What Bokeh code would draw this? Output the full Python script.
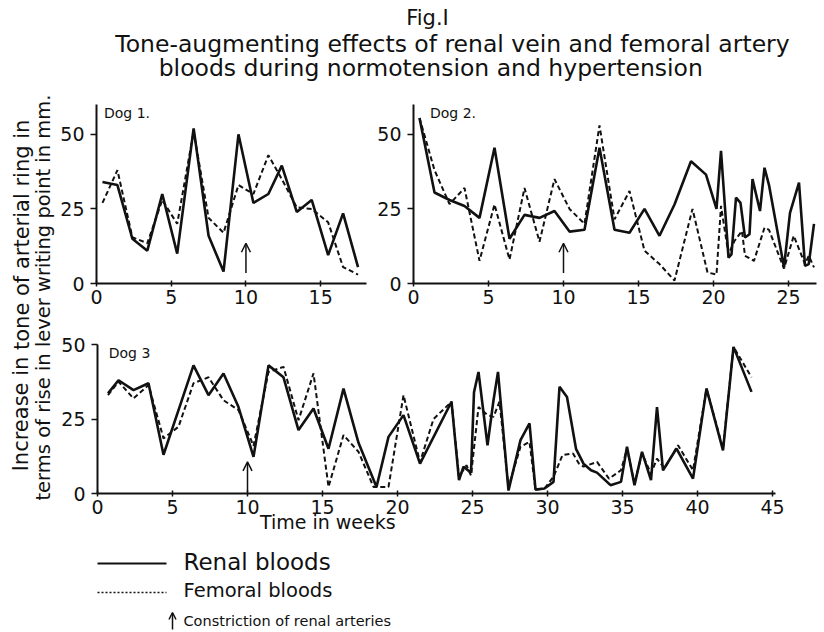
from bokeh.plotting import figure
from bokeh.layouts import column, row
from bokeh.models import Range1d, Arrow, OpenHead, FixedTicker, Label
from bokeh.core.properties import value
from bokeh.embed import file_html
from bokeh.resources import INLINE

FONT = "DejaVu Sans"
INK = "#111111"

# ---------------- data (weeks, increase in tone in mm) ----------------
dog1_renal_weeks = [0.4, 1.4, 2.4, 3.4, 4.4, 5.4, 6.5, 7.5, 8.5, 9.5, 10.5, 11.5, 12.4, 13.4, 14.4, 15.5, 16.5, 17.5]
dog1_renal = [34, 33, 15, 11, 30, 10, 52, 16, 4, 50, 27, 30, 39.5, 24, 28, 9.5, 23.5, 5.5]
dog1_femoral_weeks = [0.4, 1.4, 2.4, 3.4, 4.4, 5.4, 6.5, 7.5, 8.5, 9.5, 10.5, 11.5, 12.4, 13.4, 14.4, 15.5, 16.5, 17.5]
dog1_femoral = [27, 38, 15.5, 13.5, 28, 20, 51, 22, 17, 33, 30, 43, 35, 25.5, 25, 20.5, 5.5, 3]

dog2_renal_weeks = [0.4, 1.4, 2.4, 3.4, 4.4, 5.4, 6.4, 7.4, 8.4, 9.4, 10.4, 11.4, 12.4, 13.4, 14.4,
                    15.4, 16.4, 17.4, 18.5, 19.5, 20.2, 20.5, 21.0, 21.2, 21.5, 21.8, 22.1, 22.4, 22.6,
                    23.1, 23.4, 23.7, 24.7, 25.1, 25.7, 26.1, 26.35, 26.7]
dog2_renal = [55.5, 30.5, 28, 26, 22, 45.5, 15, 23, 22, 24.3, 17.4, 18, 45.5, 18, 17,
              25, 16, 26.5, 41, 36.5, 25, 44.5, 8.7, 9.8, 28.8, 27, 15.4, 16.5, 35,
              24.3, 38.8, 33, 5.4, 23.7, 33.8, 5.9, 6.5, 20]
dog2_femoral_weeks = [0.4, 1.4, 2.4, 3.4, 4.4, 5.4, 6.4, 7.4, 8.4, 9.4, 10.4, 11.4, 12.4, 13.4, 14.4,
                      15.4, 16.4, 17.4, 18.6, 19.6, 20.2, 20.5, 21.0, 21.4, 21.9, 22.1, 22.7, 23.4,
                      23.7, 24.7, 25.35, 26.1, 26.35, 26.7]
dog2_femoral = [55.5, 38, 26.6, 32, 7.6, 26.5, 8, 32, 14, 35, 25, 20, 53, 21.5, 31,
                11, 6.5, 1, 25, 3.7, 3, 26, 9.8, 14.3, 17.6, 9.3, 7.6, 18.7,
                18, 5, 16, 6.5, 9.3, 5.4]

dog3_renal_weeks = [0.7, 1.4, 2.4, 3.4, 4.4, 5.4, 6.4, 7.4, 8.4, 9.4, 10.4, 11.4, 12.4, 13.4, 14.4,
                    15.4, 16.4, 17.4, 18.6, 19.4, 20.4, 21.5, 23.6, 24.1, 24.4, 24.9, 25.1, 25.4,
                    26.0, 26.4, 26.7, 27.4, 28.2, 28.8, 29.2, 29.8, 30.4, 30.8, 31.3, 31.9, 32.4,
                    32.9, 33.3, 34.2, 34.9, 35.3, 35.8, 36.3, 36.9, 37.3, 37.7, 38.6, 39.7, 40.6,
                    41.7, 42.4, 43.6]
dog3_renal = [33.6, 38, 34.7, 37, 13, 28, 43, 33, 40.3, 29, 12.3, 43, 39, 21.3, 28.5,
              15, 35.2, 17, 2.2, 19, 26.3, 10, 30.8, 4.5, 9, 7, 34, 40.8,
              16.2, 31.3, 40.8, 1, 17.9, 23.5, 1.3, 1.7, 3.9, 35.8, 32.4, 15, 10,
              7.8, 7, 2.8, 3.9, 15.7, 2.8, 14, 4.5, 29, 7.8, 15.1, 5, 35.2,
              14.5, 49.2, 34.1]
dog3_femoral_weeks = [0.7, 1.4, 2.4, 3.4, 4.4, 5.4, 6.4, 7.4, 8.4, 9.4, 10.4, 11.4, 12.4, 13.4, 14.4,
                      15.4, 16.4, 17.4, 18.4, 19.4, 20.4, 21.5, 22.4, 23.6, 24.1, 24.6, 24.9, 25.4,
                      26.0, 26.4, 26.8, 27.4, 28.2, 28.8, 29.2, 29.8, 30.4, 31.0, 31.7, 32.1, 32.4,
                      33.3, 34.1, 34.9, 35.3, 35.8, 36.3, 36.9, 37.3, 37.8, 38.7, 39.7, 40.6, 41.7,
                      42.4, 43.6]
dog3_femoral = [33, 37.5, 31.9, 36.4, 18.5, 22.4, 37, 39, 31.3, 28, 16, 40.8, 42.5, 24.6, 40.3,
                2.2, 19.6, 14, 2.2, 2.2, 33, 10.5, 25, 30.8, 5.6, 9.5, 6, 29,
                26.3, 25.7, 30.8, 2.2, 15.7, 17.3, 1.3, 1.7, 5.6, 12.9, 13.4, 10, 9,
                10.6, 5, 7.8, 15, 3.4, 13.4, 6.7, 11.7, 8.4, 16.2, 7.8, 35.2, 15.1,
                49.2, 39]

constriction_week = 10

dog1_xticks = [0, 5, 10, 15]
dog2_xticks = [0, 5, 10, 15, 20, 25]
dog3_xticks = [0, 5, 10, 15, 20, 25, 30, 35, 40, 45]
y_ticks = [0, 25, 50]

title_lines = ["Fig.I",
               "Tone-augmenting effects of renal vein and femoral artery",
               "bloods during  normotension and hypertension"]
y_label_lines = ["Increase in tone of arterial ring in",
                 "terms of rise in lever writing point in mm."]
x_label = "Time in weeks"
legend_labels = ["Renal bloods", "Femoral bloods", "Constriction of renal arteries"]

PX_PER_WEEK = 15.0


def blank(w, h, xr, yr):
    f = figure(width=w, height=h, x_range=xr, y_range=yr, output_backend="svg",
               toolbar_location=None, min_border=0)
    f.axis.visible = False
    f.grid.visible = False
    f.outline_line_color = None
    f.background_fill_color = "white"
    f.border_fill_color = "white"
    return f


def panel(w, h, bl, br, bt, bb, ymax, xticks, name, name_xy,
          rw, rv, fw, fv, arrow_y):
    frame_w = w - bl - br
    p = figure(width=w, height=h, output_backend="svg", toolbar_location=None,
               x_range=Range1d(0, frame_w / PX_PER_WEEK), y_range=Range1d(0, ymax),
               min_border_left=bl, min_border_right=br, min_border_top=bt, min_border_bottom=bb)
    p.grid.visible = False
    p.outline_line_color = None
    p.background_fill_color = "white"
    p.border_fill_color = "white"
    for ax in (p.xaxis[0], p.yaxis[0]):
        ax.axis_line_width = 2
        ax.axis_line_color = INK
        ax.major_tick_line_color = INK
        ax.major_tick_line_width = 1.5
        ax.minor_tick_line_color = None
        ax.major_label_text_font = FONT
        ax.major_label_text_font_size = "19px"
        ax.major_label_text_color = INK
    p.xaxis.ticker = FixedTicker(ticks=xticks)
    p.yaxis.ticker = FixedTicker(ticks=y_ticks)
    p.xaxis.major_tick_in = 3
    p.xaxis.major_tick_out = 3
    p.xaxis.major_label_standoff = 3
    p.yaxis.major_tick_in = 0
    p.yaxis.major_tick_out = 6
    p.yaxis.major_label_standoff = 6

    p.line(fw, fv, line_color=INK, line_width=2, line_dash="5 3")
    p.line(rw, rv, line_color=INK, line_width=2.6)
    p.add_layout(Arrow(end=OpenHead(size=9, line_width=1.5, line_color=INK),
                       x_start=constriction_week, x_end=constriction_week,
                       y_start=arrow_y[0], y_end=arrow_y[1],
                       line_width=1.5, line_color=INK))
    p.add_layout(Label(x=name_xy[0], y=name_xy[1], text=name, text_font=FONT,
                       text_font_size="14px", text_baseline="middle", text_color=INK))
    return p


# ---------------- title ----------------
t = blank(820, 88, Range1d(0, 820), Range1d(88, 0))
t.text(x=[427, 452, 434], y=[17, 43, 67], text=title_lines,
       text_font=value(FONT), text_font_size=["21px", "23.5px", "23.5px"],
       text_align="center", text_baseline="middle", text_color=INK)

# ---------------- y label ----------------
yl = blank(57, 457, Range1d(0, 57), Range1d(457, 0))
yl.text(x=[21, 43], y=[207, 209], text=y_label_lines, angle=1.5707963,
        text_font=value(FONT), text_font_size=["21px", "19.5px"],
        text_align="center", text_baseline="middle", text_color=INK)

# ---------------- panels ----------------
p1 = panel(313, 230, 38, 4, 16, 35, 60, dog1_xticks, "Dog 1.", (0.5, 57),
           dog1_renal_weeks, dog1_renal, dog1_femoral_weeks, dog1_femoral, (3.5, 13.5))
p2 = panel(450, 230, 43, 4, 16, 35, 60, dog2_xticks, "Dog 2.", (1.1, 57),
           dog2_renal_weeks, dog2_renal, dog2_femoral_weeks, dog2_femoral, (3.5, 13.5))
p3 = panel(763, 227, 40, 45, 26, 52, 50, dog3_xticks, "Dog 3", (0.75, 47),
           dog3_renal_weeks, dog3_renal, dog3_femoral_weeks, dog3_femoral, (0.5, 10.6))
# axis title sits left of the axis centre in the original; pad with no-break spaces
p3.xaxis.axis_label = x_label + "\u00a0" * 36
p3.xaxis.axis_label_text_font = FONT
p3.xaxis.axis_label_text_font_size = "19px"
p3.xaxis.axis_label_text_font_style = "normal"
p3.xaxis.axis_label_text_color = INK
p3.xaxis.axis_label_standoff = -6

# ---------------- legend ----------------
lg = blank(820, 85, Range1d(0, 820), Range1d(85, 0))
lg.line([97, 166], [18, 18], line_color=INK, line_width=2)
lg.line([97, 166], [47, 47], line_color=INK, line_width=1.5, line_dash="2 2")
lg.add_layout(Arrow(end=OpenHead(size=7, line_width=1.5, line_color=INK),
                    x_start=172, x_end=172, y_start=84, y_end=67,
                    line_width=1.5, line_color=INK))
lg.text(x=[183, 183, 183], y=[16, 45, 75], text=legend_labels,
        text_font=value(FONT), text_font_size=["23px", "19.5px", "14.5px"],
        text_align="left", text_baseline="middle", text_color=INK)

layout = column(t, row(yl, column(row(p1, p2), p3)), lg)

open("out.html", "w").write(file_html(layout, INLINE))
